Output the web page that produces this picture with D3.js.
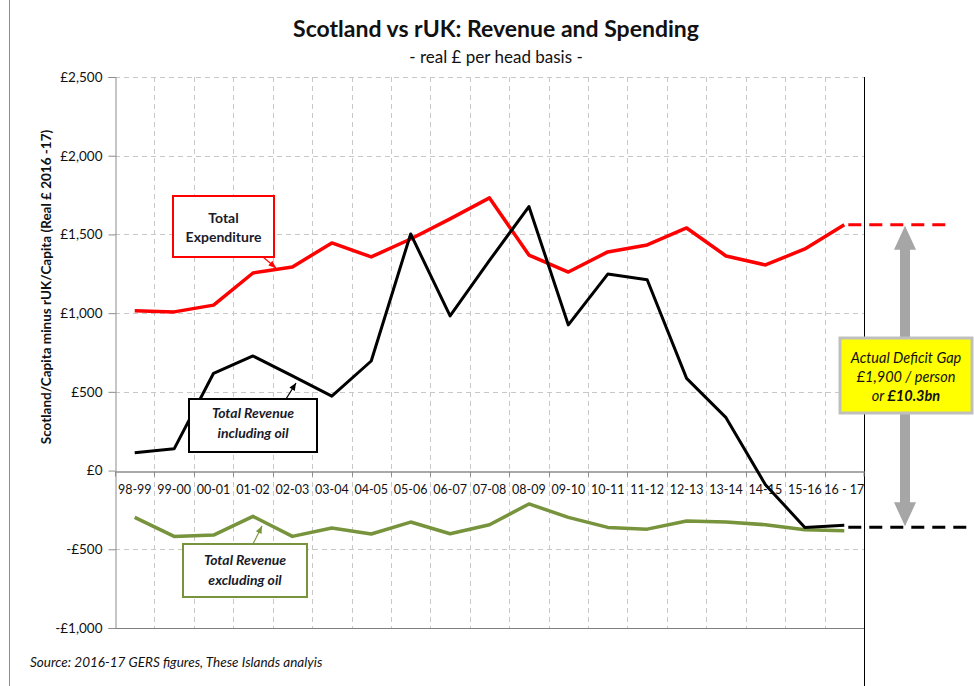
<!DOCTYPE html>
<html><head><meta charset="utf-8">
<script src="https://cdn.jsdelivr.net/npm/d3@7"></script>
<style>body{margin:0;background:#fff}svg{display:block}text{font-family:Lato,"Open Sans",sans-serif}</style>
</head><body><div id="chart"></div>
<script>
const categories = ["98-99","99-00","00-01","01-02","02-03","03-04","04-05","05-06","06-07","07-08","08-09","09-10","10-11","11-12","12-13","13-14","14-15","15-16","16 - 17"];
const expenditure = [1015,1008,1051,1255,1293,1446,1357,1471,1599,1732,1369,1261,1389,1433,1541,1363,1306,1408,1561];
const revenueInclOil = [113,138,618,728,601,473,696,1503,983,1335,1677,925,1248,1212,586,336,-90,-361,-348];
const revenueExclOil = [-297,-418,-410,-291,-418,-365,-403,-327,-401,-344,-212,-297,-361,-372,-320,-327,-344,-376,-382];
const yTicks = [-1000,-500,0,500,1000,1500,2000,2500];
const titleText = "Scotland vs rUK: Revenue and Spending";
const subtitleText = "- real £ per head basis -";
const yAxisTitle = "Scotland/Capita minus rUK/Capita (Real £ 2016 -17)";
const sourceText = "Source:  2016-17 GERS figures, These Islands analyis";

const W = 974, H = 686;
const svg = d3.select("#chart").append("svg").attr("width", W).attr("height", H);
const x = d3.scaleBand().domain(categories).range([115, 864]);
const y = d3.scaleLinear().domain([-1000, 2500]).range([628, 77]);
const cx = c => x(c) + x.bandwidth() / 2;
const fmt = v => (v < 0 ? "-£" : "£") + d3.format(",")(Math.abs(v));

// outer frame (left edge)
svg.append("line").attr("x1", 9.5).attr("x2", 9.5).attr("y1", 0).attr("y2", H).attr("stroke", "#8c8c8c");

// titles
svg.append("text").attr("x", 496).attr("y", 37).attr("text-anchor", "middle")
  .attr("font-size", 23).attr("font-weight", "bold").attr("fill", "#111").text(titleText);
svg.append("text").attr("x", 496).attr("y", 63).attr("text-anchor", "middle")
  .attr("font-size", 17).attr("fill", "#111").text(subtitleText);

// gridlines
const grid = svg.append("g");
yTicks.filter(v => v !== 0 && v !== -1000).forEach(v => {
  grid.append("line").attr("x1", 115).attr("x2", 864).attr("y1", Math.round(y(v)) + 0.5).attr("y2", Math.round(y(v)) + 0.5)
    .attr("stroke", "#c8c8c8").attr("stroke-dasharray", "5,4");
});
categories.slice(1).forEach(c => {
  const xx = Math.round(x(c)) + 0.5;
  grid.append("line").attr("x1", xx).attr("x2", xx).attr("y1", 77).attr("y2", 628)
    .attr("stroke", "#c8c8c8").attr("stroke-dasharray", "5,4");
});

// plot borders
svg.append("line").attr("x1", 115).attr("x2", 864).attr("y1", 628.5).attr("y2", 628.5).attr("stroke", "#7f7f7f");
svg.append("line").attr("x1", 864.5).attr("x2", 864.5).attr("y1", 77).attr("y2", 686).attr("stroke", "#000");

// y axis
const yAxis = d3.axisLeft(y).tickValues(yTicks).tickFormat(fmt).tickSize(7).tickPadding(6);
const ga = svg.append("g").attr("transform", "translate(115.5,0)").call(yAxis);
ga.select(".domain").attr("stroke", "#8c8c8c");
ga.selectAll(".tick line").attr("stroke", "#8c8c8c");
ga.selectAll(".tick text").attr("font-size", 13.5).attr("fill", "#111").attr("font-family", "Lato,sans-serif");

// x axis at zero
const xAxis = d3.axisBottom(x).tickSize(0).tickPadding(14);
const gx = svg.append("g").attr("transform", `translate(0,${Math.round(y(0)) + 0.5})`).call(xAxis);
gx.select(".domain").attr("stroke", "#8c8c8c").attr("stroke-width", 1.5);
gx.selectAll(".tick text").attr("font-size", 12.5).attr("fill", "#111").attr("font-family", "Lato,sans-serif");
categories.forEach(c => {
  const xx = Math.round(x(c)) + 0.5;
  gx.append("line").attr("x1", xx).attr("x2", xx).attr("y1", 0).attr("y2", 5).attr("stroke", "#8c8c8c");
});
gx.append("line").attr("x1", 864).attr("x2", 864).attr("y1", 0).attr("y2", 5).attr("stroke", "#8c8c8c");

// y axis title
svg.append("text").attr("transform", "translate(51,287) rotate(-90)").attr("text-anchor", "middle")
  .attr("font-size", 13.5).attr("font-weight", "bold").attr("fill", "#111").text(yAxisTitle);

// lines
const line = d3.line().x((d, i) => cx(categories[i])).y(d => y(d));
const series = [
  {vals: revenueExclOil, color: "#77933c", w: 3.5},
  {vals: expenditure, color: "#ff0000", w: 3.5},
  {vals: revenueInclOil, color: "#000000", w: 3}
];
series.forEach(s => {
  svg.append("path").datum(s.vals).attr("d", line).attr("fill", "none")
    .attr("stroke", s.color).attr("stroke-width", s.w).attr("stroke-linejoin", "round");
});

// dashed reference lines
const last = categories.length - 1;
svg.append("line").attr("x1", cx(categories[last]) + 4).attr("x2", 948)
  .attr("y1", y(expenditure[last])).attr("y2", y(expenditure[last]))
  .attr("stroke", "#ff0000").attr("stroke-width", 3).attr("stroke-dasharray", "13,8");
svg.append("line").attr("x1", cx(categories[last]) + 4).attr("x2", 974)
  .attr("y1", y(revenueInclOil[last]) + 2).attr("y2", y(revenueInclOil[last]) + 2)
  .attr("stroke", "#000").attr("stroke-width", 3).attr("stroke-dasharray", "13,8");

// gray double arrow
const ax = 905, aTop = y(expenditure[last]) + 1, aBot = y(revenueInclOil[last]) + 1;
const sw = 5, hw = 11, hl = 24;
svg.append("path").attr("fill", "#a6a6a6").attr("d",
  `M${ax},${aTop} L${ax + hw},${aTop + hl} L${ax + sw},${aTop + hl} L${ax + sw},${aBot - hl} L${ax + hw},${aBot - hl}
   L${ax},${aBot} L${ax - hw},${aBot - hl} L${ax - sw},${aBot - hl} L${ax - sw},${aTop + hl} L${ax - hw},${aTop + hl} Z`);

// yellow box
svg.append("rect").attr("x", 840).attr("y", 338).attr("width", 132).attr("height", 75)
  .attr("fill", "#ffff00").attr("stroke", "#bfbfbf").attr("stroke-width", 3);
const yb = svg.append("text").attr("text-anchor", "middle").attr("font-size", 14.5).attr("font-style", "italic").attr("fill", "#111");
yb.append("tspan").attr("x", 906).attr("y", 363).text("Actual Deficit Gap");
yb.append("tspan").attr("x", 906).attr("y", 382).text("£1,900 / person");
const t3 = yb.append("tspan").attr("x", 906).attr("y", 401);
t3.append("tspan").text("or ");
t3.append("tspan").attr("font-weight", "bold").text("£10.3bn");

// annotation boxes
function box(x0, y0, w, h, color, lines, italic, arrow, firstOff, gap) {
  svg.append("line").attr("x1", arrow[0]).attr("y1", arrow[1]).attr("x2", arrow[2]).attr("y2", arrow[3])
    .attr("stroke", color).attr("stroke-width", 1.2);
  const ang = Math.atan2(arrow[3] - arrow[1], arrow[2] - arrow[0]);
  const L = 8, A = 0.4;
  svg.append("path").attr("fill", color).attr("d",
    `M${arrow[2]},${arrow[3]} L${arrow[2] - L * Math.cos(ang - A)},${arrow[3] - L * Math.sin(ang - A)} L${arrow[2] - L * Math.cos(ang + A)},${arrow[3] - L * Math.sin(ang + A)} Z`);
  svg.append("rect").attr("x", x0).attr("y", y0).attr("width", w).attr("height", h)
    .attr("fill", "#fff").attr("stroke", color).attr("stroke-width", 2);
  const t = svg.append("text").attr("text-anchor", "middle").attr("font-size", 14).attr("font-weight", "bold")
    .attr("font-style", italic ? "italic" : "normal").attr("fill", "#1a1a2a");
  lines.forEach((l, i) => t.append("tspan").attr("x", x0 + w / 2).attr("y", y0 + firstOff + 5 + i * gap).text(l));
}
box(173, 196, 101, 61, "#ff0000", ["Total", "Expenditure"], false, [263, 257, 276, 268], 22, 19);
box(189, 399, 128, 53, "#000000", ["Total Revenue", "including oil"], true, [286, 399, 296, 383], 14, 20);
box(183, 544, 124, 53, "#77933c", ["Total Revenue", "excluding oil"], true, [253, 544, 262, 526], 16, 20);

// source
svg.append("text").attr("x", 30).attr("y", 667).attr("font-size", 13.5).attr("font-style", "italic").attr("fill", "#111").text(sourceText);
</script></body></html>
